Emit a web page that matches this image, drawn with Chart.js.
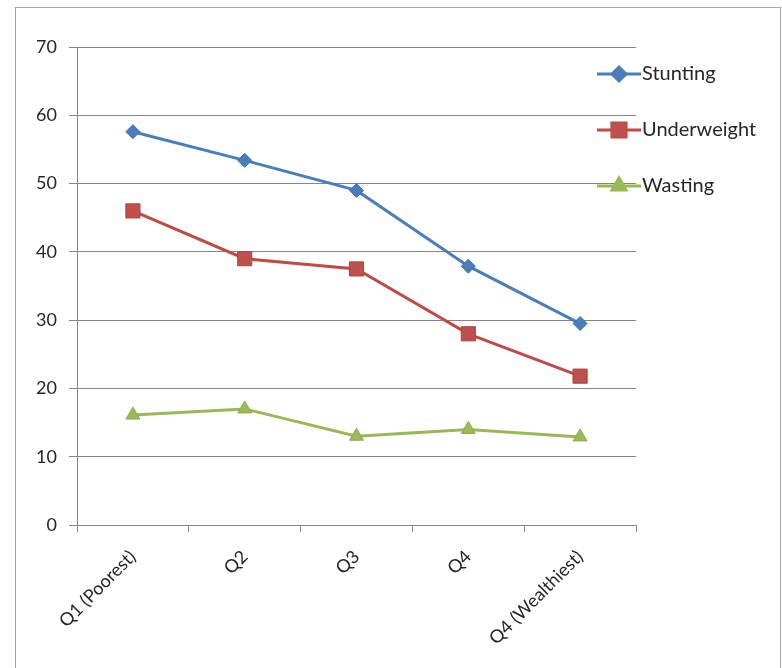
<!DOCTYPE html>
<html>
<head>
<meta charset="utf-8">
<script src="https://cdn.jsdelivr.net/npm/chart.js@4/dist/chart.umd.min.js"></script>
<style>
  html, body { margin: 0; padding: 0; background: #fff; }
  #wrap { position: relative; width: 782px; height: 668px; overflow: hidden; }
  #frame { position: absolute; left: 15px; top: 7px; width: 766px; height: 700px; border: 1px solid #a6a6a6; box-sizing: border-box; }
  canvas { position: absolute; left: 0; top: 0; }
</style>
</head>
<body>
<div id="wrap">
  <div id="frame"></div>
  <canvas id="chart" width="782" height="668"></canvas>
</div>
<script>
const quintiles = ["Q1 (Poorest)", "Q2", "Q3", "Q4", "Q4 (Wealthiest)"];
const stunting = [57.6, 53.4, 49.0, 37.9, 29.5];
const underweight = [46.0, 39.0, 37.5, 28.0, 21.8];
const wasting = [16.1, 17.0, 13.0, 14.0, 12.9];

const font = "Lato, 'Open Sans', sans-serif";

// Excel-style legend: line with marker through it
const sideLegend = {
  id: "sideLegend",
  afterDraw(chart) {
    const ctx = chart.ctx;
    const rows = [74, 130, 186];
    chart.data.datasets.forEach((ds, i) => {
      const y = rows[i];
      ctx.save();
      ctx.strokeStyle = ds.borderColor;
      ctx.lineWidth = 3;
      ctx.beginPath();
      ctx.moveTo(597, y);
      ctx.lineTo(641, y);
      ctx.stroke();
      Chart.helpers.drawPoint(ctx, {
        pointStyle: ds.pointStyle,
        radius: ds.pointRadius,
        borderWidth: 1
      }, 619, y);
      ctx.fillStyle = ds.pointBackgroundColor;
      ctx.strokeStyle = ds.pointBorderColor;
      ctx.fill();
      ctx.fillStyle = "#262626";
      ctx.font = "20px " + font;
      ctx.textBaseline = "middle";
      ctx.fillText(ds.label, 642, y);
      ctx.restore();
    });
  }
};

new Chart(document.getElementById("chart"), {
  type: "line",
  data: {
    labels: quintiles,
    datasets: [
      {
        label: "Stunting",
        data: stunting,
        borderColor: "#4a7ebb",
        pointBackgroundColor: "#4a7ebb",
        pointBorderColor: "#3f70ab",
        pointStyle: "rectRot",
        pointRadius: 7
      },
      {
        label: "Underweight",
        data: underweight,
        borderColor: "#be4b48",
        pointBackgroundColor: "#c0504d",
        pointBorderColor: "#a94542",
        pointStyle: "rect",
        pointRadius: 10
      },
      {
        label: "Wasting",
        data: wasting,
        borderColor: "#98b954",
        pointBackgroundColor: "#9bbb59",
        pointBorderColor: "#8aa94c",
        pointStyle: "triangle",
        pointRadius: 8
      }
    ]
  },
  options: {
    responsive: false,
    animation: false,
    layout: { padding: { left: 0, right: 146, top: 47, bottom: 0 } },
    elements: {
      line: { borderWidth: 3, tension: 0 },
      point: { borderWidth: 1 }
    },
    plugins: {
      legend: { display: false },
      tooltip: { enabled: false }
    },
    scales: {
      x: {
        offset: true,
        grid: { offset: true, drawOnChartArea: false, drawTicks: true, tickLength: 7, color: "#868686" },
        border: { color: "#868686" },
        ticks: {
          minRotation: 45,
          maxRotation: 45,
          color: "#262626",
          font: { family: font, size: 18 },
          padding: 14
        },
        afterFit(scale) { scale.height = 143; }
      },
      y: {
        min: 0,
        max: 70,
        ticks: {
          stepSize: 10,
          color: "#262626",
          font: { family: font, size: 18 },
          padding: 12
        },
        grid: { color: "#868686", tickLength: 8 },
        border: { color: "#868686" },
        afterFit(scale) { scale.width = 77; }
      }
    }
  },
  plugins: [sideLegend]
});
</script>
</body>
</html>
